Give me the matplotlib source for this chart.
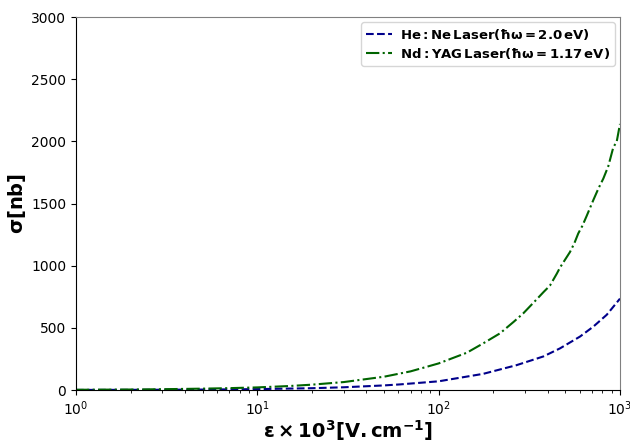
import numpy as np
import matplotlib
matplotlib.use('Agg')
from matplotlib import pyplot as plt

# values
x_hene = [1, 2, 3, 5, 10, 20, 30, 50, 61, 100, 176, 269, 378, 467, 602, 713, 845, 1000]
y_hene = [0.7, 1.5, 2.2, 3.7, 7.3, 14.6, 22, 37, 45, 70, 130, 200, 270, 335, 430, 510, 605, 735]

x_ndyag = [1, 2, 3, 5, 7, 10, 15, 20, 30, 50, 70, 100, 143, 176, 218, 260, 293, 347, 380,
           411, 448, 467, 530, 560, 589, 620, 655, 713, 760, 809, 862, 918, 960, 1000]
y_ndyag = [2, 4, 6.5, 11, 15, 21, 32, 43, 64, 107, 150, 214, 300, 375, 456, 550, 617, 729, 790,
           840, 935, 985, 1110, 1180, 1260, 1320, 1400, 1528, 1620, 1700, 1800, 1950, 2000, 2140]

lab_hene = r'$\mathbf{He:Ne\,Laser(\hbar\omega=2.0\,eV)}$'
lab_ndyag = r'$\mathbf{Nd:YAG\,Laser(\hbar\omega=1.17\,eV)}$'

fig = plt.figure(figsize=(6.3, 4.4), dpi=100)
ax = fig.add_axes([0.1206, 0.1136, 0.8635, 0.8477])

ax.plot(x_hene, y_hene, '--', color='darkblue', lw=1.5, label=lab_hene)
ax.plot(x_ndyag, y_ndyag, '-.', color='darkgreen', lw=1.5, label=lab_ndyag)

ax.set_xscale('log')
ax.set_xlim(1, 1000)
ax.set_ylim(0, 3000)
ax.set_xlabel(r'$\mathbf{\varepsilon \times 10^3 [V.cm^{-1}]}$', fontsize=14, labelpad=0)
ax.set_ylabel(r'$\mathbf{\sigma [nb]}$', fontsize=14, labelpad=2)
ax.spines['top'].set_color('gray')
ax.spines['right'].set_color('gray')
ax.legend(loc='upper right', fontsize=9.5, labelspacing=0.3, borderpad=0.35,
          handlelength=2.0, handletextpad=0.6, borderaxespad=0.4)

fig.savefig('out.png', dpi=100)
